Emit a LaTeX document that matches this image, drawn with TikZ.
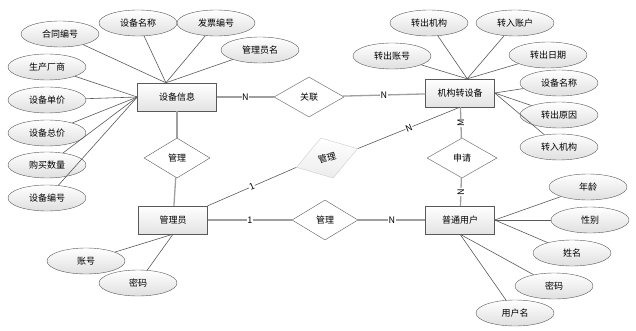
\documentclass[tikz,border=0pt]{standalone}
\usepackage{fontspec}
\setmainfont{Noto Sans CJK SC}
\usetikzlibrary{shapes,positioning}
\tikzstyle{ent}=[rectangle,draw=gray!70!black,top color=white,bottom color=gray!22,minimum width=69pt,minimum height=28pt,inner sep=0pt,font=\fontsize{9}{10}\selectfont]
\tikzstyle{attr}=[ellipse,draw=gray!70!black,top color=white,bottom color=gray!25,minimum width=78pt,minimum height=26pt,inner sep=0pt,font=\fontsize{9}{10}\selectfont]
\tikzstyle{rel}=[diamond,draw=gray!70!black,fill=white,minimum width=66pt,minimum height=40pt,inner sep=0pt,font=\fontsize{9}{10}\selectfont]
\tikzstyle{lnk}=[draw=gray!75,line width=1.3pt]
\tikzstyle{att}=[draw=gray!70!black,line width=0.6pt]
\tikzstyle{card}=[fill=white,inner sep=0.5pt,font=\fontsize{9}{10}\selectfont]

\begin{document}
\begin{tikzpicture}[x=1pt,y=-1pt]
\useasboundingbox (0,0) rectangle (636,331);
% entities
\node[ent,minimum width=79pt] (sbxx) at (177,97) {设备信息};
\node[ent] (jgzsb) at (460,93) {机构转设备};
\node[ent] (gly) at (173,220) {管理员};
\node[ent] (ptyh) at (460,220) {普通用户};
% relations
\node[rel,minimum width=70pt] (guanlian) at (309,97) {关联};
\node[rel] (glA) at (177,158) {管理};
\node[rel,minimum width=70pt] (shenqing) at (462,158) {申请};
\node[rel] (glB) at (325,220) {管理};
\node[rel,draw=gray!40,top color=white,bottom color=gray!15,rotate=17,minimum width=64pt,minimum height=42pt] (glC) at (327,158) {管理};
% attributes of sbxx
\node[attr] (htbh) at (60,34) {合同编号};
\node[attr] (sbmc) at (138,23) {设备名称};
\node[attr] (fpbh) at (216,23) {发票编号};
\node[attr] (glym) at (260,50) {管理员名};
\node[attr] (sccs) at (47,67) {生产厂商};
\node[attr] (sbdj) at (47,100) {设备单价};
\node[attr] (sbzj) at (47,133) {设备总价};
\node[attr] (gmsl) at (47,165) {购买数量};
\node[attr] (sbbh) at (47,198) {设备编号};
% attributes of jgzsb
\node[attr] (zcjg) at (429,23) {转出机构};
\node[attr] (zrzh) at (515,23) {转入账户};
\node[attr] (zczh) at (392,56) {转出账号};
\node[attr] (zcrq) at (548,55) {转出日期};
\node[attr] (jgsbmc) at (559,83) {设备名称};
\node[attr] (zcyy) at (559,115) {转出原因};
\node[attr] (zrjg) at (559,147) {转入机构};
% attributes of ptyh
\node[attr] (nl) at (588,187) {年龄};
\node[attr] (xb) at (590,220) {性别};
\node[attr] (xm) at (572,253) {姓名};
\node[attr] (yhmm) at (554,286) {密码};
\node[attr] (yhm) at (515,313) {用户名};
% attributes of gly
\node[attr] (zh) at (86,261) {账号};
\node[attr] (glmm) at (138,283) {密码};

\foreach \a in {htbh,sbmc,fpbh,glym}
  \draw[att] (\a) -- (sbxx.128);
\foreach \a in {sccs,sbdj,sbzj,gmsl,sbbh}
  \draw[att] (\a) -- (sbxx.west);
\foreach \a in {zczh,zcjg,zrzh,zcrq}
  \draw[att] (\a) -- (jgzsb.63);
\foreach \a in {jgsbmc,zcyy,zrjg}
  \draw[att] (\a) -- (jgzsb.east);
\foreach \a in {nl,xb,xm}
  \draw[att] (\a) -- (ptyh.east);
\foreach \a in {yhmm,yhm}
  \draw[att] (\a) -- (ptyh.south);
\foreach \a in {zh,glmm}
  \draw[att] (\a) -- (gly.south);

\draw[lnk] (sbxx) -- node[card]{N} (guanlian);
\draw[lnk] (guanlian) -- node[card]{N} (jgzsb);
\draw[lnk] (sbxx) -- (glA);
\draw[lnk] (glA) -- (gly);
\draw[lnk] (gly) -- node[card]{1} (glB);
\draw[lnk] (glB) -- node[card]{N} (ptyh);
\draw[lnk] (jgzsb) -- node[card,rotate=90]{M} (shenqing);
\draw[lnk] (shenqing) -- node[card,rotate=90]{N} (ptyh);
\draw[att] (gly.north east) -- node[card,sloped]{1} (glC.west);
\draw[att] (glC.east) -- node[card,sloped]{N} (jgzsb.south);
\end{tikzpicture}
\end{document}
